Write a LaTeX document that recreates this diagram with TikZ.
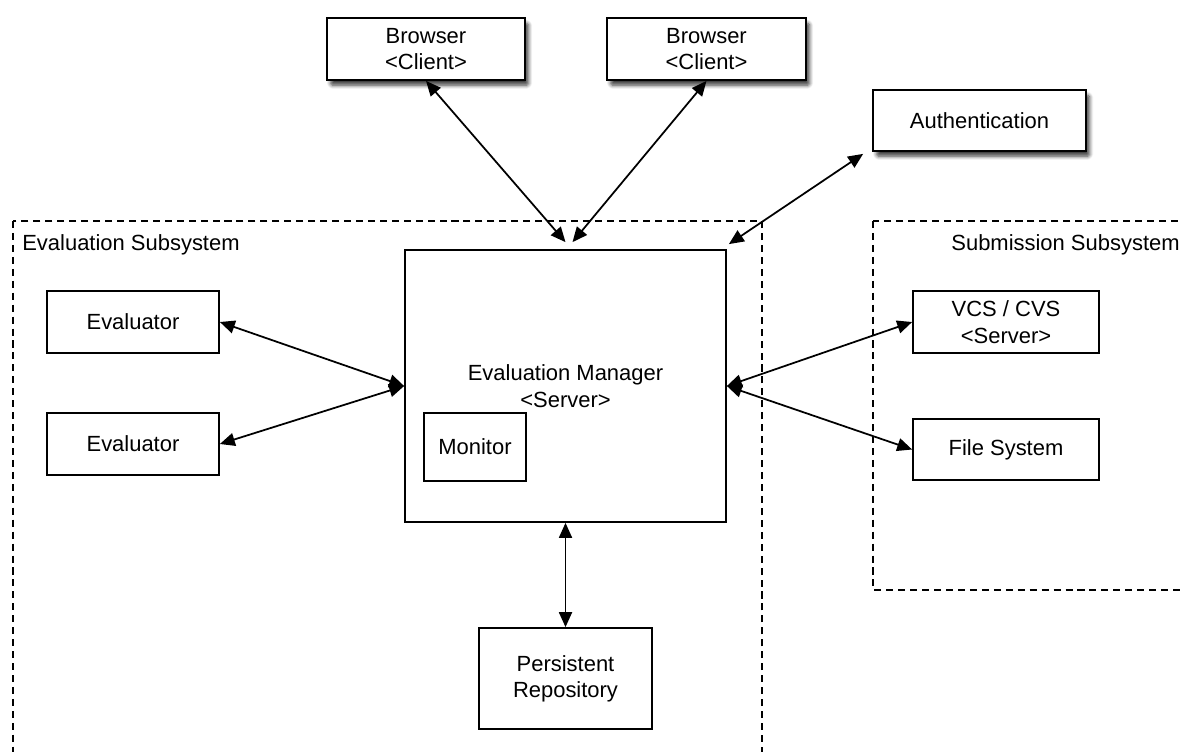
\documentclass[tikz,border=0pt]{standalone}
\usepackage{fontspec}
\setmainfont{Liberation Sans}
\usetikzlibrary{arrows.meta,shadows.blur,calc}
\begin{document}
\begin{tikzpicture}[x=0.02cm,y=-0.02cm,
  box/.style={draw=black, line width=1pt, fill=white, align=center,
    inner sep=0pt, font=\fontsize{12.5}{15}\selectfont},
  boxsize/.style 2 args={minimum width=#1*0.02cm, minimum height=#2*0.02cm},
  shadowed/.style={blur shadow={shadow xshift=2pt, shadow yshift=-3pt,
    shadow blur steps=6, shadow blur extra rounding=1pt, shadow opacity=75}},
  link/.style={line width=1pt,
    {Triangle[length=8.5pt,width=7.4pt]}-{Triangle[length=8.5pt,width=7.4pt]}},
  group/.style={draw=black, line width=0.6pt, dash pattern=on 4pt off 2.8pt},
  grouplabel/.style={inner sep=0pt, font=\fontsize{12.5}{15}\selectfont}]

\path[use as bounding box] (0,0) rectangle (1182,751);
\clip (0,0) rectangle (1182,751);

% subsystem frames
\draw[group] (13,221) rectangle (762,770);
\draw[group] (873,221) rectangle (1200,590);
\node[grouplabel, anchor=base west] (evallabel) at (22,250) {Evaluation Subsystem};
\node[grouplabel, anchor=base east] (sublabel) at (1180,250) {Submission Subsystem};

% clients and authentication
\node[box, shadowed, boxsize={198}{62}] (b1) at (426,49) {Browser\\<Client>};
\node[box, shadowed, boxsize={199}{62}] (b2) at (706.5,49) {Browser\\<Client>};
\node[box, shadowed, boxsize={213}{61}] (auth) at (979.5,120.5) {Authentication};

% evaluation side
\node[box, boxsize={172}{62}] (ev1) at (133,322) {Evaluator};
\node[box, boxsize={172}{62}] (ev2) at (133,444) {Evaluator};
\node[box, boxsize={321}{272}] (em) at (565.5,386) {Evaluation Manager\\<Server>};
\node[box, boxsize={102}{68}] (mon) at (475,447) {Monitor};
\node[box, boxsize={173}{101}] (repo) at (565.5,678.5) {Persistent\\Repository};

% submission side
\node[box, boxsize={186}{62}] (vcs) at (1006,322) {VCS / CVS\\<Server>};
\node[box, boxsize={186}{61}] (fs) at (1006,449.5) {File System};

% connections
\coordinate (emtop1) at ($(em.north)+(0,-7)$);
\coordinate (emtop2) at ($(em.north)+(7,-7)$);
\coordinate (emne) at ($(em.north east)+(2,-5)$);
\coordinate (authsw) at ($(auth.south west)+(-9,2)$);
\draw[link] (b1.south) -- (emtop1);
\draw[link] (b2.south) -- (emtop2);
\draw[link] (authsw) -- (emne);
\draw[link] (ev1.east) -- (em.west);
\draw[link] (ev2.east) -- (em.west);
\draw[link] (em.east) -- (vcs.west);
\draw[link] (em.east) -- (fs.west);
\draw[link] (em.south) -- (repo.north);
\end{tikzpicture}
\end{document}
